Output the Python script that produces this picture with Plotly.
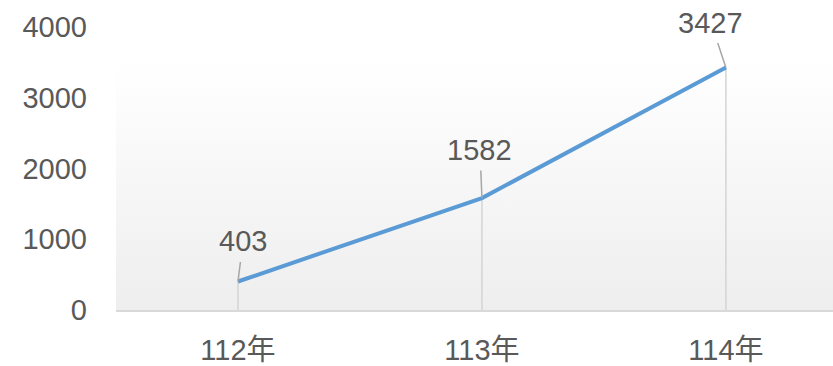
import plotly.graph_objects as go

# Yearly totals
years = ["112年", "113年", "114年"]
totals = [403, 1582, 3427]

# Label offsets (pixels) for the leader-line callouts
label_dx = [5, -2, -15]
label_dy = [-40, -48, -45]

y_ticks = [0, 1000, 2000, 3000, 4000]

FONT = "Liberation Sans, Noto Sans CJK TC, sans-serif"
TEXT = "#595959"
SIZE = 29

pos = list(range(len(years)))

fig = go.Figure()

# Soft vertical gradient behind the plot area
fig.add_trace(go.Scatter(
    x=[-0.5, 2.5, 2.5, -0.5, -0.5],
    y=[0, 0, 4000, 4000, 0],
    mode="none",
    fill="toself",
    fillgradient=dict(type="vertical",
                      colorscale=[[0, "#eeeeee"], [0.88, "#ffffff"], [1, "#ffffff"]]),
    hoverinfo="skip",
    showlegend=False,
))

# Series line with drop lines to the category axis
fig.add_trace(go.Scatter(
    x=pos,
    y=totals,
    mode="lines",
    line=dict(color="#5B9BD5", width=4),
    error_y=dict(type="data", symmetric=False,
                 array=[0] * len(totals), arrayminus=totals,
                 color="#d4d4d4", thickness=1.5, width=0),
    showlegend=False,
))

for p, v, dx, dy in zip(pos, totals, label_dx, label_dy):
    fig.add_annotation(
        x=p, y=v, text=str(v),
        showarrow=True, arrowhead=0, arrowwidth=1.5, arrowcolor="#a6a6a6",
        ax=dx, ay=dy, borderpad=4,
        font=dict(family=FONT, size=SIZE, color=TEXT),
    )

fig.update_layout(
    width=833, height=366,
    margin=dict(l=116, r=0, t=27, b=56),
    paper_bgcolor="#ffffff",
    plot_bgcolor="rgba(0,0,0,0)",
    font=dict(family=FONT, size=SIZE, color=TEXT),
    xaxis=dict(
        range=[-0.5, 2.439], tickvals=pos, ticktext=years,
        showgrid=False, zeroline=False, automargin=False,
        showline=True, linecolor="#d9d9d9", linewidth=1.5,
        ticks="", ticklabelstandoff=13,
        tickfont=dict(family=FONT, size=SIZE, color=TEXT),
    ),
    yaxis=dict(
        range=[0, 4000], tickvals=y_ticks, automargin=False,
        showgrid=False, zeroline=False, showline=False,
        ticks="", ticklabelstandoff=28,
        tickfont=dict(family=FONT, size=SIZE, color=TEXT),
    ),
)

fig.write_html("out.html")
